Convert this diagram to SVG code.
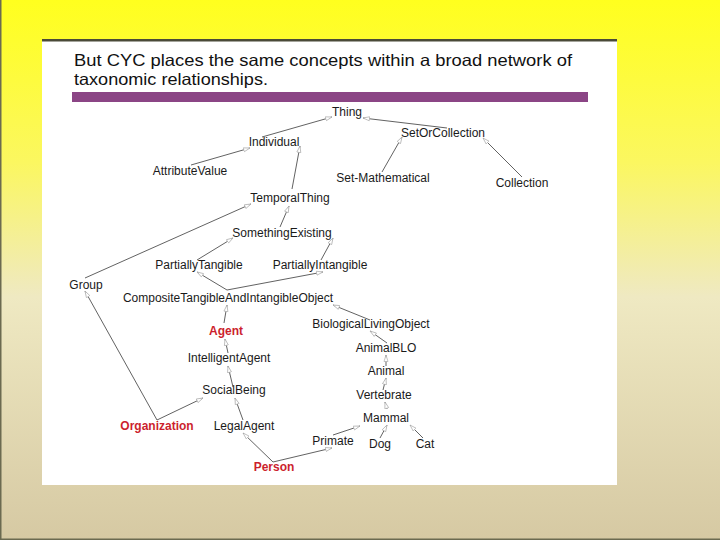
<svg xmlns="http://www.w3.org/2000/svg" width="720" height="540" viewBox="0 0 720 540">
<defs>
<linearGradient id="bg" x1="0" y1="0" x2="0" y2="1">
<stop offset="0" stop-color="#ffff1e"/>
<stop offset="0.3" stop-color="#fbf760"/>
<stop offset="0.55" stop-color="#efe9c2"/>
<stop offset="1" stop-color="#d6c9a3"/>
</linearGradient>
<marker id="arr" markerUnits="userSpaceOnUse" markerWidth="8" markerHeight="6" refX="7" refY="3" orient="auto">
<path d="M0.5,1 L7,3 L0.5,5 Z" fill="#fff" stroke="#aaa" stroke-width="0.7"/>
</marker>
</defs>
<style>
.n{font-family:"Liberation Sans",Arial,sans-serif;font-size:12px;fill:#1a1a1a;text-anchor:middle}
.r{font-family:"Liberation Sans",Arial,sans-serif;font-size:12px;font-weight:bold;fill:#cc1f2e;text-anchor:middle}
.e{stroke:#3a3a3a;stroke-width:0.8;fill:none;marker-end:url(#arr)}
.t{font-family:"Liberation Sans",Arial,sans-serif;font-size:16.5px;fill:#111}
</style>
<rect x="0" y="0" width="720" height="540" fill="url(#bg)"/>
<rect x="0" y="0" width="1.5" height="540" fill="#6b6a50"/>
<rect x="0" y="538.5" width="720" height="1.5" fill="#6b6a50"/>
<rect x="42" y="40" width="575" height="445" fill="#ffffff"/>
<rect x="42" y="39" width="575" height="2.5" fill="#4a4a38"/>
<text class="t" x="74" y="66" textLength="498" lengthAdjust="spacingAndGlyphs">But CYC places the same concepts within a broad network of</text>
<text class="t" x="74" y="84.5" textLength="194" lengthAdjust="spacingAndGlyphs">taxonomic relationships.</text>
<rect x="72" y="92" width="516" height="10" fill="#8b4585"/>
<g id="connectors">
<line class="e" x1="262" y1="137" x2="332" y2="117"/>
<line class="e" x1="447" y1="128" x2="363" y2="118"/>
<line class="e" x1="191" y1="165" x2="250" y2="148"/>
<line class="e" x1="292" y1="189" x2="300" y2="146"/>
<line class="e" x1="382" y1="172" x2="402" y2="137"/>
<line class="e" x1="522" y1="177" x2="483" y2="138"/>
<line class="e" x1="280" y1="227" x2="289" y2="206"/>
<line class="e" x1="85" y1="278" x2="251" y2="204"/>
<line class="e" x1="197" y1="260" x2="233" y2="238"/>
<line class="e" x1="321" y1="260" x2="333" y2="238"/>
<line class="e" x1="227" y1="290" x2="197" y2="272"/>
<line class="e" x1="227" y1="290" x2="323" y2="272"/>
<line class="e" x1="224" y1="323" x2="227" y2="305"/>
<line class="e" x1="370" y1="320" x2="333" y2="305"/>
<line class="e" x1="157" y1="420" x2="85" y2="291"/>
<line class="e" x1="157" y1="420" x2="203" y2="398"/>
<line class="e" x1="228" y1="353" x2="225" y2="339"/>
<line class="e" x1="233" y1="387" x2="228" y2="366"/>
<line class="e" x1="243" y1="420" x2="235" y2="398"/>
<line class="e" x1="273" y1="462" x2="243" y2="433"/>
<line class="e" x1="273" y1="462" x2="332" y2="448"/>
<line class="e" x1="387" y1="343" x2="370" y2="331"/>
<line class="e" x1="386" y1="366" x2="386" y2="355"/>
<line class="e" x1="383" y1="390" x2="386" y2="378"/>
<line class="e" x1="387" y1="409" x2="385" y2="402"/>
<line class="e" x1="333" y1="435" x2="360" y2="426"/>
<line class="e" x1="380" y1="438" x2="387" y2="425"/>
<line class="e" x1="423" y1="438" x2="410" y2="425"/>
</g>
<g id="Thing"><text class="n" x="347" y="116">Thing</text></g>
<g id="SetOrCollection"><text class="n" x="443" y="137">SetOrCollection</text></g>
<g id="Individual"><text class="n" x="274" y="146">Individual</text></g>
<g id="AttributeValue"><text class="n" x="190" y="175">AttributeValue</text></g>
<g id="SetMathematical"><text class="n" x="383" y="182">Set-Mathematical</text></g>
<g id="Collection"><text class="n" x="522" y="187">Collection</text></g>
<g id="TemporalThing"><text class="n" x="290" y="202">TemporalThing</text></g>
<g id="SomethingExisting"><text class="n" x="282" y="237">SomethingExisting</text></g>
<g id="PartiallyTangible"><text class="n" x="199" y="269">PartiallyTangible</text></g>
<g id="PartiallyIntangible"><text class="n" x="320" y="269">PartiallyIntangible</text></g>
<g id="Group"><text class="n" x="86" y="289">Group</text></g>
<g id="CompositeTangibleAndIntangibleObject"><text class="n" x="228" y="302">CompositeTangibleAndIntangibleObject</text></g>
<g id="Agent"><text class="r" x="226" y="335">Agent</text></g>
<g id="BiologicalLivingObject"><text class="n" x="371" y="328">BiologicalLivingObject</text></g>
<g id="AnimalBLO"><text class="n" x="386" y="352">AnimalBLO</text></g>
<g id="IntelligentAgent"><text class="n" x="229" y="362">IntelligentAgent</text></g>
<g id="Animal"><text class="n" x="386" y="375">Animal</text></g>
<g id="SocialBeing"><text class="n" x="234" y="394">SocialBeing</text></g>
<g id="Vertebrate"><text class="n" x="384" y="399">Vertebrate</text></g>
<g id="Mammal"><text class="n" x="386" y="422">Mammal</text></g>
<g id="Organization"><text class="r" x="157" y="430">Organization</text></g>
<g id="LegalAgent"><text class="n" x="244" y="430">LegalAgent</text></g>
<g id="Primate"><text class="n" x="333" y="445">Primate</text></g>
<g id="Dog"><text class="n" x="380" y="448">Dog</text></g>
<g id="Cat"><text class="n" x="425" y="448">Cat</text></g>
<g id="Person"><text class="r" x="274" y="471">Person</text></g>
</svg>
